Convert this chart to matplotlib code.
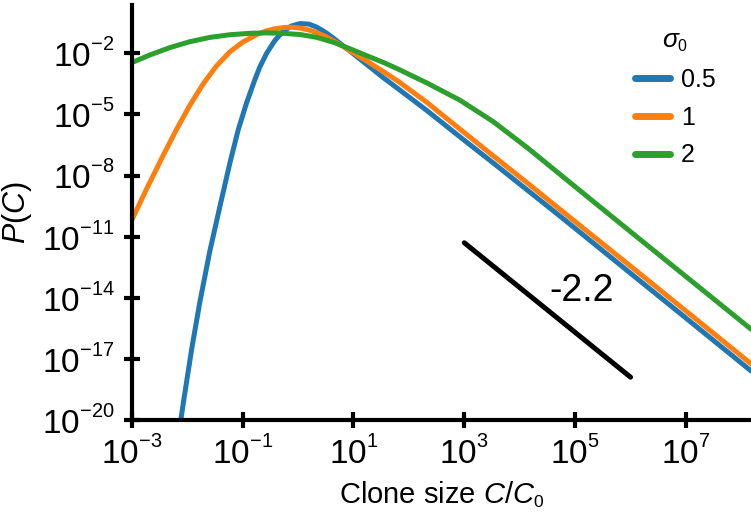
import numpy as np
import matplotlib
matplotlib.use("Agg")
import matplotlib.pyplot as plt
import matplotlib._mathtext as mathtext_internal

# smaller, higher superscripts, closer to the reference tick labels
mathtext_internal.SHRINK_FACTOR = 0.6
mathtext_internal.FontConstantsBase.sup1 = 0.9

# values (log10 C/C0, log10 P)
sigma_labels = ["0.5", "1", "2"]
colors = ["#1f77b4", "#ff7f0e", "#2ca02c"]

blue_lx = [-2.12, -2.06, -1.92, -1.77, -1.59, -1.41, -1.23, -1.08, -0.93, -0.78, -0.69,
           -0.57, -0.42, -0.27, -0.12, 0.04, 0.2, 0.34, 0.5, 0.64, 0.8, 0.94, 1.24, 1.54,
           1.81, 2.32, 2.92, 3.52, 4.13, 4.73, 6.0, 7.0, 8.2]
blue_ly = [-20.1, -19.0, -16.55, -14.2, -11.7, -9.53, -7.4, -5.77, -4.45, -3.31, -2.68,
           -2.02, -1.38, -0.93, -0.66, -0.54, -0.57, -0.72, -0.98, -1.26, -1.6, -1.9, -2.55,
           -3.2, -3.75, -4.8, -6.1, -7.38, -8.7, -10.0, -12.8, -15.0, -17.65]

orange_lx = [-3.0, -2.73, -2.43, -2.19, -1.95, -1.71, -1.47, -1.23, -0.99, -0.72, -0.57,
             -0.42, -0.27, -0.12, 0.04, 0.2, 0.34, 0.5, 0.64, 0.8, 0.94, 1.24, 1.54, 1.81,
             2.32, 2.92, 3.52, 4.13, 4.73, 6.0, 7.0, 8.2]
orange_ly = [-10.2, -8.65, -7.0, -5.73, -4.55, -3.5, -2.62, -1.93, -1.44, -1.05, -0.9,
             -0.8, -0.74, -0.72, -0.76, -0.86, -0.99, -1.18, -1.39, -1.64, -1.88, -2.38,
             -2.9, -3.38, -4.4, -5.72, -7.03, -8.35, -9.67, -12.45, -14.65, -17.3]

green_lx = [-3.0, -2.67, -2.31, -1.95, -1.59, -1.23, -0.87, -0.57, -0.27, 0.04, 0.34,
            0.64, 0.94, 1.24, 1.54, 1.81, 2.32, 2.92, 3.52, 4.13, 4.73, 5.33, 6.0, 7.0, 8.2]
green_ly = [-2.46, -2.08, -1.72, -1.43, -1.22, -1.09, -1.02, -1.0, -1.02, -1.08, -1.22,
            -1.46, -1.78, -2.12, -2.45, -2.78, -3.45, -4.3, -5.35, -6.62, -7.95, -9.28,
            -10.76, -12.96, -15.6]

# reference slope line
slope_x = [1e3, 1e6]
slope_y = [10**-11.3, 10**-17.9]
slope_label = "-2.2"

plt.rcParams["font.family"] = ["Liberation Sans", "DejaVu Sans"]
plt.rcParams["mathtext.fontset"] = "custom"
plt.rcParams["mathtext.rm"] = "Liberation Sans"
plt.rcParams["mathtext.it"] = "Liberation Sans:italic"

fig = plt.figure(figsize=(7.51, 5.15), dpi=100)
ax = fig.add_axes([0.1754, 0.1845, 0.8246, 0.8058])

series = [(blue_lx, blue_ly), (orange_lx, orange_ly), (green_lx, green_ly)]
for (lx, ly), lab, c in zip(series, sigma_labels, colors):
    ax.plot(10**np.array(lx), 10**np.array(ly), color=c, lw=3.6, label=lab,
            solid_capstyle="butt", solid_joinstyle="round")

ax.plot(slope_x, slope_y, color="black", lw=3.6, solid_capstyle="round")
ax.text(10**5.11, 10**-13.66, slope_label, fontsize=27, ha="center", va="center")

ax.set_xscale("log")
ax.set_yscale("log")
ax.set_xlim(1e-3, 10**8.173)
ax.set_ylim(1e-20, 10**0.37)

ax.set_xticks([10.0**k for k in range(-3, 8, 2)])
ax.set_xticklabels([f"$10^{{{k}}}$" for k in range(-3, 8, 2)])
ax.set_yticks([10.0**k for k in range(-20, -1, 3)])
ax.set_yticklabels([f"$10^{{{k}}}$" for k in range(-20, -1, 3)])
ax.minorticks_off()

for s in ["top", "right"]:
    ax.spines[s].set_visible(False)
for s in ["left", "bottom"]:
    ax.spines[s].set_linewidth(3)
ax.tick_params(direction="inout", length=11, width=3, labelsize=24)
ax.tick_params(axis="x", pad=6)
ax.tick_params(axis="y", pad=7)

ax.set_xlabel("Clone size $C/C_0$", fontsize=21)
ax.set_ylabel("$P(C)$", fontsize=22)
ax.xaxis.set_label_coords(0.5, -0.142)
ax.yaxis.set_label_coords(-0.157, 0.5)

leg = ax.legend(title="$\\sigma_0$", frameon=False, fontsize=18, title_fontsize=19,
                loc="upper left", bbox_to_anchor=(635 / 751, 1 - 29 / 515),
                bbox_transform=fig.transFigure, borderaxespad=0, borderpad=0,
                handlelength=1.4, handletextpad=0.45, labelspacing=0.55)
for h in leg.get_lines():
    h.set_linewidth(5)
    h.set_solid_capstyle("round")

fig.savefig("out.png", dpi=100)
